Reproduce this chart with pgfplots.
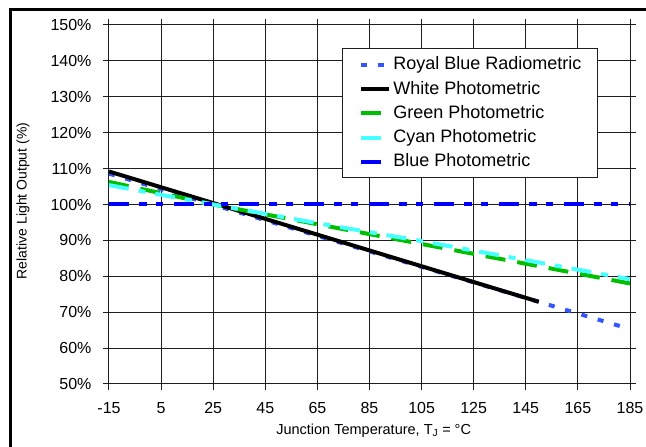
\documentclass[border=0pt]{standalone}
\usepackage{fontspec}
\setmainfont{Liberation Sans}
\usepackage{pgfplots}
\pgfplotsset{compat=1.18}

\definecolor{royalblue}{RGB}{51,85,255}
\definecolor{lgreen}{RGB}{0,190,0}
\definecolor{lcyan}{RGB}{70,255,255}
\definecolor{lblue}{RGB}{0,0,255}
\definecolor{gridgray}{RGB}{30,30,30}

\begin{document}
\begin{tikzpicture}
\begin{axis}[
    scale only axis,
    width=521pt, height=359pt,
    xmin=-15, xmax=185, ymin=50, ymax=150,
    xtick={-15,5,25,45,65,85,105,125,145,165,185},
    xticklabels={-15,5,25,45,65,85,105,125,145,165,185},
    ytick={50,60,70,80,90,100,110,120,130,140,150},
    yticklabels={50\%,60\%,70\%,80\%,90\%,100\%,110\%,120\%,130\%,140\%,150\%},
    grid=major,
    major grid style={gridgray, line width=1pt},
    axis line style={gridgray, line width=1pt},
    tick style={gridgray, line width=1pt},
    tick align=outside,
    major tick length=6pt,
    tick label style={font=\fontsize{16}{19}\selectfont},
    xticklabel style={yshift=-9pt},
    yticklabel style={xshift=-8pt},
    xlabel={Junction Temperature, T$_{\mathrm{J}}$ = °C},
    xlabel style={font=\fontsize{14.5}{17}\selectfont, at={(axis description cs:0.508,-0.131)}, anchor=center},
    ylabel={Relative Light Output (\%)},
    ylabel style={font=\fontsize{14}{16}\selectfont, at={(axis description cs:-0.165,0.51)}, anchor=center},
    legend cell align=left,
    legend style={
        at={(0.447,0.936)}, anchor=north west,
        font=\fontsize{18}{21}\selectfont,
        draw=gridgray, line width=1pt,
        inner xsep=14pt, inner ysep=4pt,
        row sep=0pt,
        nodes={inner ysep=3pt, text height=14.3pt, text depth=4pt},
    },
]
\addplot[royalblue, line width=4pt, dash pattern=on 6pt off 11pt,
    legend image code/.code={\path[draw=none] (0pt,0pt) -- (33pt,0pt); \draw[royalblue, line width=4pt, solid] (5pt,0pt) -- (11pt,0pt) (22pt,0pt) -- (28pt,0pt);}]
    coordinates {(-15,108.6) (185,65.3)};
\addlegendentry{Royal Blue Radiometric}
\addplot[black, line width=4pt,
    legend image code/.code={\path[draw=none] (0pt,0pt) -- (33pt,0pt); \draw[black, line width=4pt, solid] (5pt,0pt) -- (33pt,0pt);}]
    coordinates {(-15,109.2) (150,72.9)};
\addlegendentry{White Photometric}
\addplot[lgreen, line width=4pt, dash pattern=on 20pt off 12pt,
    legend image code/.code={\path[draw=none] (0pt,0pt) -- (33pt,0pt); \draw[lgreen, line width=4pt, solid] (5pt,0pt) -- (25pt,0pt);}]
    coordinates {(-15,106.3) (25,100) (65,94.5) (105,89) (145,83.5) (185,78)};
\addlegendentry{Green Photometric}
\addplot[lcyan, line width=4pt, dash pattern=on 20pt off 10pt on 7pt off 10pt,
    legend image code/.code={\path[draw=none] (0pt,0pt) -- (33pt,0pt); \draw[lcyan, line width=4pt, solid] (5pt,0pt) -- (25pt,0pt);}]
    coordinates {(-15,105.4) (25,100) (65,94.8) (105,89.8) (145,84.5) (185,79.2)};
\addlegendentry{Cyan Photometric}
\addplot[lblue, line width=4pt, dash pattern=on 20pt off 10pt on 8pt off 9pt on 7pt off 11pt,
    legend image code/.code={\path[draw=none] (0pt,0pt) -- (33pt,0pt); \draw[lblue, line width=4pt, solid] (5pt,0pt) -- (25pt,0pt);}]
    coordinates {(-15,100) (185,100)};
\addlegendentry{Blue Photometric}
\end{axis}
\draw[black, line width=3pt] (-98pt,-90pt) rectangle (560pt,374pt);
\pgfresetboundingbox
\useasboundingbox (-109pt,-63pt) rectangle (537pt,384pt);
\end{tikzpicture}
\end{document}
